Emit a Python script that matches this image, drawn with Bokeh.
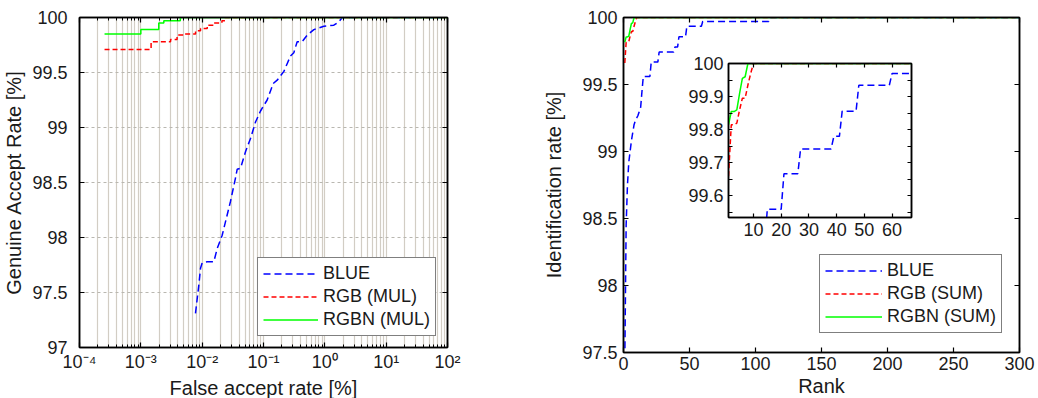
from bokeh.plotting import figure
from bokeh.models import (FixedTicker, CustomJSTickFormatter, LinearAxis, LogAxis,
                          Range1d, Legend, LegendItem)
from bokeh.layouts import row
from bokeh.embed import file_html
from bokeh.resources import INLINE

FONT = "Liberation Sans"

# ---------------- data: left panel (verification, MUL fusion) ----------------
far_ticks = [1e-4, 1e-3, 1e-2, 1e-1, 1e0, 1e1, 1e2]
gar_ticks = [97, 97.5, 98, 98.5, 99, 99.5, 100]

blue_far = [0.00778, 0.00883, 0.0094, 0.0100, 0.0121, 0.0155, 0.0176, 0.0212, 0.029,
            0.0349, 0.0372, 0.0422, 0.0509, 0.0614, 0.0741, 0.0894, 0.101, 0.1148,
            0.122, 0.144, 0.167, 0.215, 0.243, 0.275, 0.312, 0.354, 0.427, 0.515,
            0.662, 0.964, 1.40, 1.69, 1.92, 100]
blue_gar = [97.31, 97.57, 97.72, 97.77, 97.78, 97.78, 97.90, 98.02, 98.33, 98.54,
            98.62, 98.63, 98.78, 98.90, 99.05, 99.15, 99.20, 99.25, 99.29, 99.40,
            99.43, 99.51, 99.58, 99.65, 99.68, 99.78, 99.78, 99.84, 99.89, 99.92,
            99.93, 99.96, 100, 100]

rgb_mul_far = [2.56e-4, 1.47e-3, 3.05e-3, 3.9e-3, 5.0e-3, 7.8e-3, 9.4e-3, 1.21e-2,
               1.55e-2, 2.1e-2, 2.4e-2, 100]
rgb_mul_gar = [99.71, 99.78, 99.80, 99.84, 99.85, 99.88, 99.90, 99.93, 99.95, 99.97,
               100, 100]

rgbn_mul_far = [2.56e-4, 1.0e-3, 1.96e-3, 2.37e-3, 4.4e-3, 100]
rgbn_mul_gar = [99.85, 99.89, 99.95, 99.97, 100, 100]

# ---------------- data: right panel (identification, SUM fusion) ----------------
rank_ticks = [0, 50, 100, 150, 200, 250, 300]
ident_ticks = [97.5, 98, 98.5, 99, 99.5, 100]
inset_rank_ticks = [10, 20, 30, 40, 50, 60]
inset_ident_ticks = [99.6, 99.7, 99.8, 99.9, 100]
inset_ident_minor = [99.55, 99.65, 99.75, 99.85, 99.95]

blue_rank = [1, 2, 3, 4, 5, 6, 7, 8, 9, 10, 11, 12, 13, 14, 15, 20, 21, 26, 27, 38,
             39, 41, 42, 47, 48, 59, 60, 110, 111, 300]
blue_rate = [97.45, 98.45, 98.75, 98.92, 99.0, 99.08, 99.14, 99.2, 99.23, 99.25,
             99.27, 99.3, 99.33, 99.45, 99.56, 99.56, 99.667, 99.667, 99.742, 99.742,
             99.78, 99.78, 99.856, 99.856, 99.934, 99.934, 99.97, 99.97, 100, 100]

rgb_sum_rank = [1, 2, 3, 4, 5, 6, 7, 8, 9, 10, 300]
rgb_sum_rate = [99.66, 99.815, 99.815, 99.82, 99.86, 99.895, 99.895, 99.935, 99.97,
                100, 100]

rgbn_sum_rank = [1, 2, 3, 4, 5, 6, 7, 8, 300]
rgbn_sum_rate = [99.815, 99.855, 99.855, 99.86, 99.91, 99.955, 99.96, 100, 100]

BLUE = "#0000ff"
RED = "#ff0000"
GREEN = "#00ff00"

num_fmt = CustomJSTickFormatter(code="return String(Math.round(tick*100)/100);")
blank_fmt = CustomJSTickFormatter(code="return '';")
pow_fmt = CustomJSTickFormatter(code="""
const e = Math.round(Math.log10(tick));
const sup = {'-':'\\u207b','0':'\\u2070','1':'\\u00b9','2':'\\u00b2','3':'\\u00b3',
             '4':'\\u2074','5':'\\u2075','6':'\\u2076'};
return '10' + String(e).split('').map(c => sup[c]).join('');
""")


def style_axis(ax, tick_in=5, minor_in=3):
    ax.major_label_text_font = FONT
    ax.major_label_text_font_size = "18px"
    ax.major_label_text_color = "#1a1a1a"
    ax.axis_label_text_font = FONT
    ax.axis_label_text_font_size = "20px"
    ax.axis_label_text_font_style = "normal"
    ax.axis_label_text_color = "#1a1a1a"
    ax.axis_line_color = "black"
    ax.axis_line_width = 1.5
    ax.major_tick_in = tick_in
    ax.major_tick_out = 0
    ax.minor_tick_in = minor_in
    ax.minor_tick_out = 0
    ax.major_tick_line_color = "black"
    ax.minor_tick_line_color = "black"
    ax.major_tick_line_width = 1.2


def mirror(p, ticker, log=False, tick_in=5, minor_in=3):
    top = (LogAxis if log else LinearAxis)(ticker=ticker, formatter=blank_fmt)
    right = LinearAxis(ticker=p.yaxis[0].ticker, formatter=blank_fmt)
    for ax in (top, right):
        style_axis(ax, tick_in, minor_in)
        ax.major_label_text_font_size = "1px"
        ax.major_label_standoff = 0
    p.add_layout(top, "above")
    p.add_layout(right, "right")


def make_legend(p, items, loc, glyph_w):
    lg = Legend(items=items, location=loc)
    lg.label_text_font = FONT
    lg.label_text_font_size = "18px"
    lg.label_text_color = "#1a1a1a"
    lg.glyph_width = glyph_w
    lg.glyph_height = 19
    lg.label_height = 19
    lg.label_standoff = 5
    lg.spacing = 2
    lg.padding = 5
    lg.margin = 0
    lg.border_line_color = "black"
    lg.border_line_width = 1.5
    lg.background_fill_color = "white"
    lg.background_fill_alpha = 1
    p.add_layout(lg)


# ---------------- left figure ----------------
p1 = figure(frame_width=368, frame_height=330, x_axis_type="log",
            x_range=Range1d(1e-4, 1e2), y_range=Range1d(97, 100),
            output_backend="svg", toolbar_location=None,
            min_border_left=79, min_border_right=93, min_border_top=16,
            min_border_bottom=30)
p1.outline_line_color = "black"
p1.outline_line_width = 1.5
x_ticker1 = FixedTicker(ticks=far_ticks,
                        minor_ticks=[m * 10.0 ** e for e in range(-4, 2) for m in range(2, 10)])
y_ticker1 = FixedTicker(ticks=gar_ticks)
p1.xaxis.ticker = x_ticker1
p1.xaxis.formatter = pow_fmt
p1.yaxis.ticker = y_ticker1
p1.yaxis.formatter = num_fmt
for ax in (p1.xaxis[0], p1.yaxis[0]):
    style_axis(ax)
p1.xaxis.axis_label = "False accept rate [%]"
p1.yaxis.axis_label = "Genuine Accept Rate [%]"
p1.yaxis.major_label_standoff = 12
p1.yaxis.axis_label_standoff = 4
p1.xaxis.major_label_standoff = 4
p1.xaxis.axis_label_standoff = 2
mirror(p1, x_ticker1, log=True)

p1.xgrid.grid_line_color = "#d2cdc4"
p1.xgrid.grid_line_width = 1.2
p1.xgrid.minor_grid_line_color = "#d2cdc4"
p1.xgrid.minor_grid_line_width = 1.2
p1.ygrid.grid_line_color = "#b9b7b0"
p1.ygrid.grid_line_dash = "3 3"

r1b = p1.line(blue_far, blue_gar, line_color=BLUE, line_width=1.5, line_dash="7 4")
r1r = p1.step(rgb_mul_far, rgb_mul_gar, mode="after", line_color=RED, line_width=1.5,
              line_dash="5 3")
r1g = p1.step(rgbn_mul_far, rgbn_mul_gar, mode="after", line_color=GREEN, line_width=1.5)
make_legend(p1, [LegendItem(label="BLUE", renderers=[r1b]),
                 LegendItem(label="RGB (MUL)", renderers=[r1r]),
                 LegendItem(label="RGBN (MUL)", renderers=[r1g])], (178, 11), 55)

# ---------------- right figure ----------------
p2 = figure(frame_width=396, frame_height=335, x_range=Range1d(0, 300),
            y_range=Range1d(97.5, 100),
            output_backend="svg", toolbar_location=None,
            min_border_left=83, min_border_right=19, min_border_top=17,
            min_border_bottom=30)
p2.outline_line_color = "black"
p2.outline_line_width = 1.5
x_ticker2 = FixedTicker(ticks=rank_ticks)
p2.xaxis.ticker = x_ticker2
p2.xaxis.formatter = num_fmt
p2.yaxis.ticker = FixedTicker(ticks=ident_ticks)
p2.yaxis.formatter = num_fmt
for ax in (p2.xaxis[0], p2.yaxis[0]):
    style_axis(ax)
p2.xaxis.axis_label = "Rank"
p2.yaxis.axis_label = "Identification rate [%]"
p2.yaxis.major_label_standoff = 6
p2.yaxis.axis_label_standoff = 14
p2.xaxis.major_label_standoff = 4
p2.xaxis.axis_label_standoff = 2
mirror(p2, x_ticker2)
p2.grid.visible = False

r2b = p2.line(blue_rank, blue_rate, line_color=BLUE, line_width=1.5, line_dash="7 4")
r2r = p2.line(rgb_sum_rank, rgb_sum_rate, line_color=RED, line_width=1.5, line_dash="5 3")
r2g = p2.line(rgbn_sum_rank, rgbn_sum_rate, line_color=GREEN, line_width=1.5)
make_legend(p2, [LegendItem(label="BLUE", renderers=[r2b]),
                 LegendItem(label="RGB (SUM)", renderers=[r2r]),
                 LegendItem(label="RGBN (SUM)", renderers=[r2g])], (196, 19), 57)

# ---------------- inset (zoom of right panel) ----------------
p3 = figure(frame_width=183, frame_height=154,
            x_range=Range1d(1, 67), y_range=Range1d(99.535, 100),
            output_backend="svg", toolbar_location=None,
            min_border_left=48, min_border_right=5, min_border_top=10,
            min_border_bottom=32,
            styles={"position": "absolute", "left": "680px", "top": "46px"})
p3.outline_line_color = "black"
p3.outline_line_width = 1.5
p3.border_fill_alpha = 0
p3.background_fill_color = "white"
x_ticker3 = FixedTicker(ticks=inset_rank_ticks)
p3.xaxis.ticker = x_ticker3
p3.xaxis.formatter = num_fmt
p3.yaxis.ticker = FixedTicker(ticks=inset_ident_ticks, minor_ticks=inset_ident_minor)
p3.yaxis.formatter = num_fmt
for ax in (p3.xaxis[0], p3.yaxis[0]):
    style_axis(ax, 4, 4)
p3.yaxis.major_label_standoff = 5
p3.xaxis.major_label_standoff = 5
mirror(p3, x_ticker3, tick_in=4, minor_in=4)
p3.grid.visible = False

p3.line(blue_rank, blue_rate, line_color=BLUE, line_width=1.5, line_dash="7 4")
p3.line(rgb_sum_rank, rgb_sum_rate, line_color=RED, line_width=1.5, line_dash="5 3")
p3.line(rgbn_sum_rank, rgbn_sum_rate, line_color=GREEN, line_width=1.5)

layout = row(p1, p2, p3, styles={"overflow": "hidden", "max-height": "398px"})
open("out.html", "w").write(file_html(layout, INLINE))
